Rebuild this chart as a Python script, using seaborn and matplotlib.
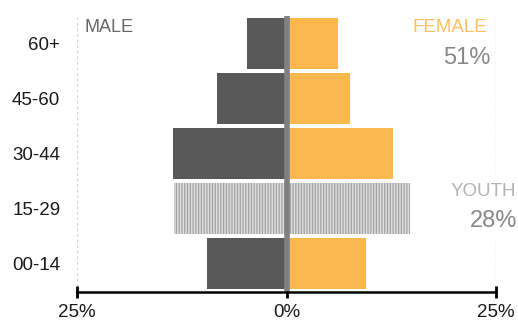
import pandas as pd
import numpy as np
import seaborn as sns
import matplotlib.pyplot as plt

# data (% of population)
ages = ['60+', '45-60', '30-44', '15-29', '00-14']
male = [4.7, 8.3, 13.5, 13.4, 9.5]
female = [6.2, 7.6, 12.7, 14.7, 9.5]
female_share = '51%'
youth_share = '28%'

df = pd.DataFrame({
    'age': ages * 2,
    'sex': ['male'] * len(ages) + ['female'] * len(ages),
    'value': [-v for v in male] + female,
})

sns.set_style('white')
plt.rcParams['font.family'] = ['Liberation Sans', 'DejaVu Sans']
plt.rcParams['hatch.linewidth'] = 0.9

fig = plt.figure(figsize=(5.18, 3.2), dpi=100)
ax = fig.add_axes([77 / 518, 1 - 291.7 / 320, (496 - 77) / 518, (291.7 - 16) / 320])

sns.barplot(data=df, x='value', y='age', hue='sex', order=ages, dodge=False,
            palette={'male': '#595959', 'female': '#FCB74F'}, width=0.93,
            saturation=1, linewidth=0, legend=False, ax=ax)

# youth bar: hatched grey over both sides
youth_idx = ages.index('15-29')
for cont in ax.containers:
    bar = cont[youth_idx]
    bar.set_facecolor('#dddddd')
    bar.set_edgecolor('#a3a3a3')
    bar.set_hatch('||||||')
    bar.set_linewidth(0)

ax.set_xlim(-25, 25)
ax.set_ylim(4.51, -0.5)

# guides
ax.axvline(-25, color='#d4d4d4', lw=1, ls=(0, (2, 2)), zorder=0)
ax.axvline(25, color='#d4d4d4', lw=1, ls=(0, (2, 2)), zorder=0)
ax.axvline(0, color='#808080', lw=4, zorder=5)

sns.despine(ax=ax, left=True)
ax.spines['bottom'].set_linewidth(1.8)
ax.spines['bottom'].set_color('black')
ax.spines['bottom'].set_zorder(6)

ax.set_xticks([-25, 0, 25])
ax.set_xticklabels(['25%', '0%', '25%'])
ax.tick_params(axis='x', bottom=True, direction='inout', length=8, width=2, color='black',
               labelsize=13.5, pad=5, labelcolor='#1a1a1a')
ax.tick_params(axis='y', left=False, length=0, labelsize=13.5, pad=12, labelcolor='#1a1a1a')
ax.set_xlabel('')
ax.set_ylabel('')

# annotations (figure pixel coords)
def px(x, y):
    return x / 518, 1 - y / 320

fig.text(*px(85, 31.5), 'MALE', color='#666666', fontsize=13, ha='left', va='baseline')
fig.text(*px(487, 31.5), 'FEMALE', color='#FDC060', fontsize=13.5, ha='right', va='baseline')
fig.text(*px(490, 63.5), female_share, color='#888888', fontsize=17, ha='right', va='baseline')
box = dict(facecolor='white', edgecolor='none', pad=4)
fig.text(*px(516, 196), 'YOUTH', color='#b3b3b3', fontsize=13.5, ha='right', va='baseline', bbox=box)
fig.text(*px(517, 227), youth_share, color='#888888', fontsize=17, ha='right', va='baseline', bbox=box)

fig.savefig('out.png', dpi=100)
